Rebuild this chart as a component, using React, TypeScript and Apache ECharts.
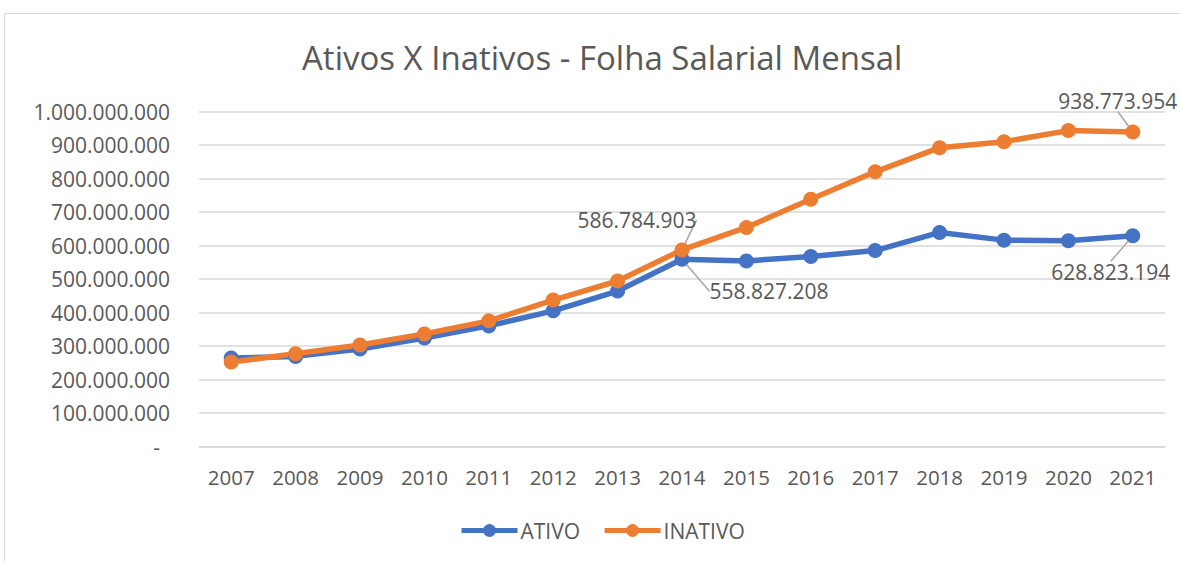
import React, { useEffect, useRef } from "react";
import * as echarts from "echarts";

const categories = ["2007", "2008", "2009", "2010", "2011", "2012", "2013", "2014", "2015", "2016", "2017", "2018", "2019", "2020", "2021"];
const ativo = [264000000, 269000000, 291000000, 324000000, 360000000, 405000000, 464000000, 558827208, 554000000, 567000000, 585000000, 639000000, 616000000, 614000000, 628823194];
const inativo = [252000000, 277000000, 303000000, 336000000, 375000000, 437000000, 494000000, 586784903, 654000000, 738000000, 820000000, 892000000, 910000000, 943000000, 938773954];

const labeledIndex = [7, 14];
const ativoOffsets: Record<number, [number, number]> = { 7: [87, 32], 14: [-22, 36] };
const inativoOffsets: Record<number, [number, number]> = { 7: [-45, -30], 14: [-15, -31] };

const FONT = "Open Sans";
const TXT = "#595959";

function fmt(v: number): string {
  return Math.round(v).toString().replace(/\B(?=(\d{3})+(?!\d))/g, ".");
}

function buildData(values: number[]) {
  return values.map((v, i) => ({
    value: v,
    label: { show: labeledIndex.includes(i) },
  }));
}

export default function App() {
  const ref = useRef<HTMLDivElement>(null);
  useEffect(() => {
    if (!ref.current) return;
    const chart = echarts.init(ref.current, undefined, { renderer: "svg" });
    const mkSeries = (name: string, values: number[], color: string, offsets: Record<number, [number, number]>) => ({
      name,
      type: "line",
      data: buildData(values),
      symbol: "circle",
      symbolSize: 15,
      lineStyle: { color, width: 5.5 },
      itemStyle: { color },
      label: {
        show: false,
        position: "inside",
        fontFamily: FONT,
        fontSize: 21,
        color: TXT,
        formatter: (p: any) => fmt(p.value),
      },
      labelLine: { show: true, lineStyle: { color: "#a6a6a6", width: 1.5 } },
      labelLayout: (p: any) => {
        const o = offsets[p.dataIndex];
        return o ? { dx: o[0], dy: o[1] } : {};
      },
    });
    chart.setOption({
      animation: false,
      backgroundColor: "#ffffff",
      title: {
        text: "Ativos X Inativos - Folha Salarial Mensal",
        left: 297,
        top: 36,
        textStyle: { fontFamily: FONT, fontSize: 33, fontWeight: "normal", color: TXT },
      },
      legend: {
        bottom: 15,
        left: 454,
        itemWidth: 56,
        itemHeight: 16,
        itemGap: 22,
        lineStyle: { width: 5 },
        textStyle: { fontFamily: FONT, fontSize: 21, color: TXT, padding: [0, 0, 0, -2] },
        data: ["ATIVO", "INATIVO"],
      },
      grid: { left: 199, right: 15, top: 111.5, bottom: 114.5, containLabel: false },
      xAxis: {
        type: "category",
        data: categories,
        boundaryGap: true,
        axisLine: { lineStyle: { color: "#d9d9d9", width: 1.5 } },
        axisTick: { show: false },
        axisLabel: { fontFamily: FONT, fontSize: 20.5, color: TXT, margin: 20 },
      },
      yAxis: {
        type: "value",
        min: 0,
        max: 1000000000,
        interval: 100000000,
        axisLine: { show: false },
        axisTick: { show: false },
        splitLine: { lineStyle: { color: "#d9d9d9", width: 1.5 } },
        axisLabel: {
          fontFamily: FONT,
          fontSize: 21,
          color: TXT,
          margin: 29,
          formatter: (v: number) => (v === 0 ? "{z|-}" : fmt(v)),
          rich: { z: { fontFamily: FONT, fontSize: 21, color: TXT, padding: [0, 10, 0, 0] } },
        },
      },
      graphic: [
        {
          type: "rect",
          shape: { x: 4.5, y: 13.5, width: 1200, height: 600 },
          style: { fill: "none", stroke: "#d9d9d9", lineWidth: 1 },
          silent: true,
        },
      ],
      series: [
        mkSeries("ATIVO", ativo, "#4472C4", ativoOffsets),
        mkSeries("INATIVO", inativo, "#ED7D31", inativoOffsets),
      ],
    });
    return () => chart.dispose();
  }, []);
  return (
    <div
      ref={ref}
      style={{ position: "fixed", left: 0, top: 0, width: 1180, height: 561, background: "#fff" }}
    />
  );
}
